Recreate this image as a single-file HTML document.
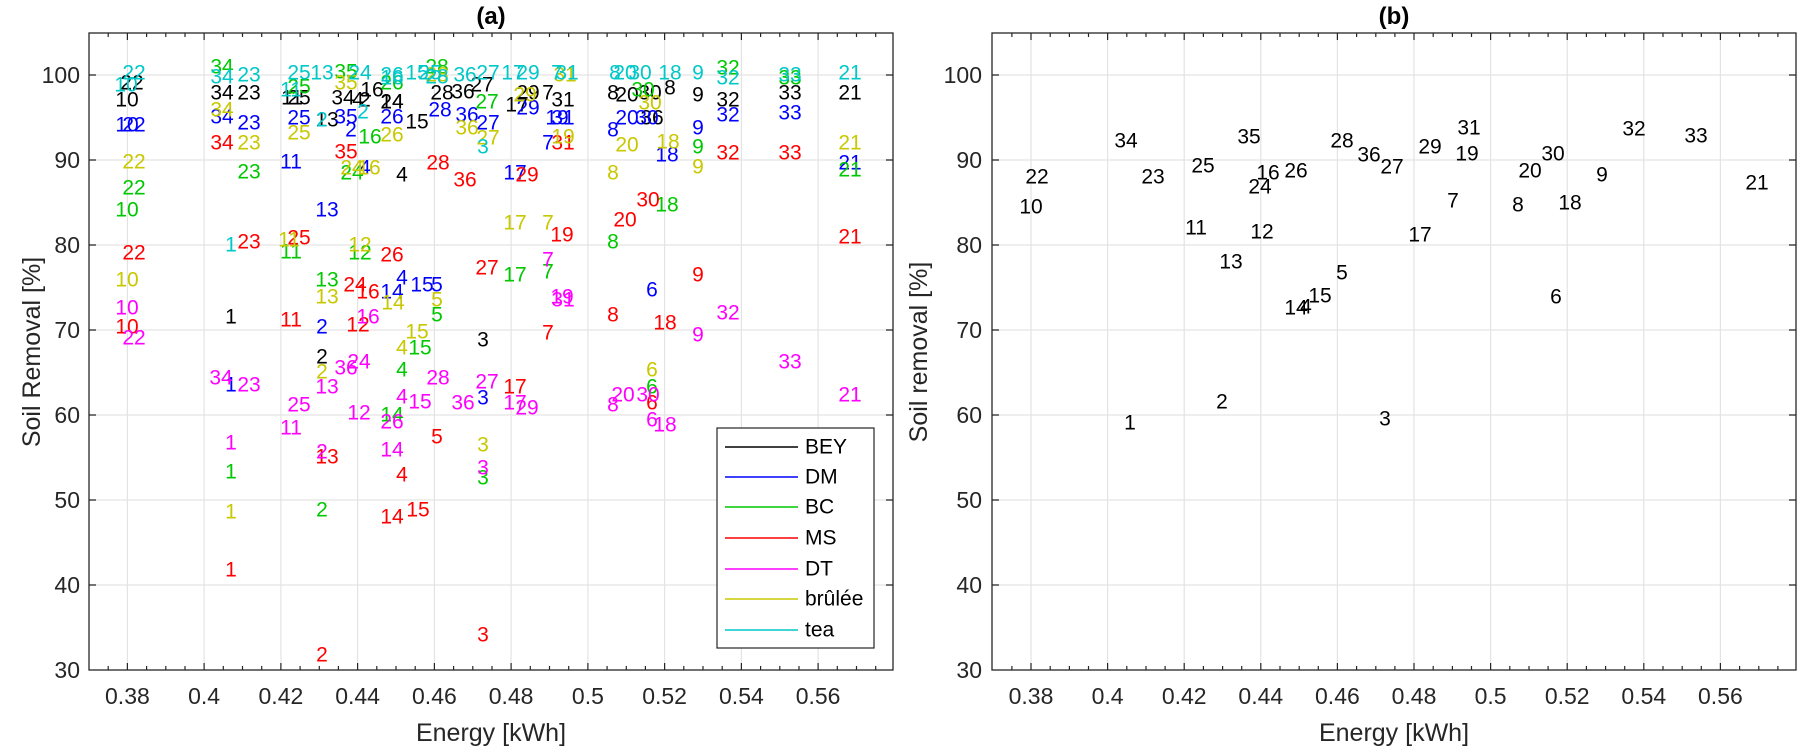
<!DOCTYPE html>
<html><head><meta charset="utf-8"><style>
body{margin:0;background:#fff}
svg{display:block;font-family:"Liberation Sans",Arial,sans-serif}
.d text{font-size:21px;text-anchor:middle;dominant-baseline:central}
.k{fill:#000}.b{fill:#0000ff}.g{fill:#00c800}.r{fill:#ff0000}.m{fill:#ff00ff}.y{fill:#c8c800}.c{fill:#00c8c8}
.t{font-size:23px;fill:#262626}
</style></head><body>
<svg width="1801" height="749" viewBox="0 0 1801 749" xmlns="http://www.w3.org/2000/svg">
<g stroke="#e3e3e3" stroke-width="1.2">
<line x1="127.4" y1="33" x2="127.4" y2="670"/><line x1="204.1" y1="33" x2="204.1" y2="670"/><line x1="280.9" y1="33" x2="280.9" y2="670"/><line x1="357.6" y1="33" x2="357.6" y2="670"/><line x1="434.4" y1="33" x2="434.4" y2="670"/><line x1="511.1" y1="33" x2="511.1" y2="670"/><line x1="587.9" y1="33" x2="587.9" y2="670"/><line x1="664.6" y1="33" x2="664.6" y2="670"/><line x1="741.4" y1="33" x2="741.4" y2="670"/><line x1="818.1" y1="33" x2="818.1" y2="670"/>
<line x1="89" y1="75" x2="893" y2="75"/><line x1="89" y1="160" x2="893" y2="160"/><line x1="89" y1="245" x2="893" y2="245"/><line x1="89" y1="330" x2="893" y2="330"/><line x1="89" y1="415" x2="893" y2="415"/><line x1="89" y1="500" x2="893" y2="500"/><line x1="89" y1="585" x2="893" y2="585"/>
</g>
<g stroke="#e3e3e3" stroke-width="1.2">
<line x1="1031" y1="33" x2="1031" y2="670"/><line x1="1107.6" y1="33" x2="1107.6" y2="670"/><line x1="1184.2" y1="33" x2="1184.2" y2="670"/><line x1="1260.8" y1="33" x2="1260.8" y2="670"/><line x1="1337.4" y1="33" x2="1337.4" y2="670"/><line x1="1414" y1="33" x2="1414" y2="670"/><line x1="1490.6" y1="33" x2="1490.6" y2="670"/><line x1="1567.2" y1="33" x2="1567.2" y2="670"/><line x1="1643.8" y1="33" x2="1643.8" y2="670"/><line x1="1720.4" y1="33" x2="1720.4" y2="670"/>
<line x1="992" y1="75" x2="1796" y2="75"/><line x1="992" y1="160" x2="1796" y2="160"/><line x1="992" y1="245" x2="1796" y2="245"/><line x1="992" y1="330" x2="1796" y2="330"/><line x1="992" y1="415" x2="1796" y2="415"/><line x1="992" y1="500" x2="1796" y2="500"/><line x1="992" y1="585" x2="1796" y2="585"/>
</g>

<g stroke="#262626" stroke-width="1.2">
<path d="M127.4 670v-7M204.1 670v-7M280.9 670v-7M357.6 670v-7M434.4 670v-7M511.1 670v-7M587.9 670v-7M664.6 670v-7M741.4 670v-7M818.1 670v-7M127.4 33v7M204.1 33v7M280.9 33v7M357.6 33v7M434.4 33v7M511.1 33v7M587.9 33v7M664.6 33v7M741.4 33v7M818.1 33v7"/>
<path d="M108.2 670v-4M146.6 670v-4M165.8 670v-4M185 670v-4M223.3 670v-4M242.5 670v-4M261.7 670v-4M300.1 670v-4M319.3 670v-4M338.4 670v-4M376.8 670v-4M396 670v-4M415.2 670v-4M453.6 670v-4M472.8 670v-4M492 670v-4M530.3 670v-4M549.5 670v-4M568.7 670v-4M607.1 670v-4M626.3 670v-4M645.4 670v-4M683.8 670v-4M703 670v-4M722.2 670v-4M760.6 670v-4M779.8 670v-4M799 670v-4M837.3 670v-4M856.5 670v-4M875.7 670v-4"/>
<path d="M108.2 33v4M146.6 33v4M165.8 33v4M185 33v4M223.3 33v4M242.5 33v4M261.7 33v4M300.1 33v4M319.3 33v4M338.4 33v4M376.8 33v4M396 33v4M415.2 33v4M453.6 33v4M472.8 33v4M492 33v4M530.3 33v4M549.5 33v4M568.7 33v4M607.1 33v4M626.3 33v4M645.4 33v4M683.8 33v4M703 33v4M722.2 33v4M760.6 33v4M779.8 33v4M799 33v4M837.3 33v4M856.5 33v4M875.7 33v4"/>
<path d="M89 75h7M89 160h7M89 245h7M89 330h7M89 415h7M89 500h7M89 585h7M893 75h-7M893 160h-7M893 245h-7M893 330h-7M893 415h-7M893 500h-7M893 585h-7"/>
</g>
<g stroke="#262626" stroke-width="1.2">
<path d="M1031 670v-7M1107.6 670v-7M1184.2 670v-7M1260.8 670v-7M1337.4 670v-7M1414 670v-7M1490.6 670v-7M1567.2 670v-7M1643.8 670v-7M1720.4 670v-7M1031 33v7M1107.6 33v7M1184.2 33v7M1260.8 33v7M1337.4 33v7M1414 33v7M1490.6 33v7M1567.2 33v7M1643.8 33v7M1720.4 33v7"/>
<path d="M1011.9 670v-4M1050.2 670v-4M1069.4 670v-4M1088.5 670v-4M1126.8 670v-4M1146 670v-4M1165.1 670v-4M1203.4 670v-4M1222.6 670v-4M1241.7 670v-4M1280 670v-4M1299.2 670v-4M1318.3 670v-4M1356.6 670v-4M1375.8 670v-4M1394.9 670v-4M1433.2 670v-4M1452.4 670v-4M1471.5 670v-4M1509.8 670v-4M1529 670v-4M1548.1 670v-4M1586.4 670v-4M1605.6 670v-4M1624.7 670v-4M1663 670v-4M1682.2 670v-4M1701.3 670v-4M1739.6 670v-4M1758.8 670v-4M1777.9 670v-4"/>
<path d="M1011.9 33v4M1050.2 33v4M1069.4 33v4M1088.5 33v4M1126.8 33v4M1146 33v4M1165.1 33v4M1203.4 33v4M1222.6 33v4M1241.7 33v4M1280 33v4M1299.2 33v4M1318.3 33v4M1356.6 33v4M1375.8 33v4M1394.9 33v4M1433.2 33v4M1452.4 33v4M1471.5 33v4M1509.8 33v4M1529 33v4M1548.1 33v4M1586.4 33v4M1605.6 33v4M1624.7 33v4M1663 33v4M1682.2 33v4M1701.3 33v4M1739.6 33v4M1758.8 33v4M1777.9 33v4"/>
<path d="M992 75h7M992 160h7M992 245h7M992 330h7M992 415h7M992 500h7M992 585h7M1796 75h-7M1796 160h-7M1796 245h-7M1796 330h-7M1796 415h-7M1796 500h-7M1796 585h-7"/>
</g>

<g class="t" text-anchor="middle">
<text x="127.4" y="704">0.38</text><text x="204.1" y="704">0.4</text><text x="280.9" y="704">0.42</text><text x="357.6" y="704">0.44</text><text x="434.4" y="704">0.46</text><text x="511.1" y="704">0.48</text><text x="587.9" y="704">0.5</text><text x="664.6" y="704">0.52</text><text x="741.4" y="704">0.54</text><text x="818.1" y="704">0.56</text>
<text x="1031" y="704">0.38</text><text x="1107.6" y="704">0.4</text><text x="1184.2" y="704">0.42</text><text x="1260.8" y="704">0.44</text><text x="1337.4" y="704">0.46</text><text x="1414" y="704">0.48</text><text x="1490.6" y="704">0.5</text><text x="1567.2" y="704">0.52</text><text x="1643.8" y="704">0.54</text><text x="1720.4" y="704">0.56</text>
</g>
<g class="t" text-anchor="end">
<text x="80" y="83">100</text><text x="80" y="168">90</text><text x="80" y="253">80</text><text x="80" y="338">70</text><text x="80" y="423">60</text><text x="80" y="508">50</text><text x="80" y="593">40</text><text x="80" y="678">30</text>
<text x="982" y="83">100</text><text x="982" y="168">90</text><text x="982" y="253">80</text><text x="982" y="338">70</text><text x="982" y="423">60</text><text x="982" y="508">50</text><text x="982" y="593">40</text><text x="982" y="678">30</text>
</g>
<g style="font-size:25px;fill:#262626" text-anchor="middle">
<text x="491" y="741">Energy [kWh]</text>
<text x="1394" y="741">Energy [kWh]</text>
<text transform="translate(40,352) rotate(-90)">Soil Removal [%]</text>
<text transform="translate(927,352) rotate(-90)">Soil removal [%]</text>
</g>
<g style="font-size:24px;font-weight:bold;fill:#000" text-anchor="middle">
<text x="491" y="24">(a)</text><text x="1394" y="24">(b)</text>
</g>

<g class="d">
<text class="k" x="132" y="83">22</text><text class="k" x="127" y="100">10</text><text class="k" x="222" y="93">34</text><text class="k" x="249" y="93">23</text><text class="k" x="292" y="98">11</text><text class="k" x="299" y="98">25</text><text class="k" x="327" y="120">13</text><text class="k" x="343" y="98">34</text><text class="k" x="372" y="90">16</text><text class="k" x="358" y="100">4</text><text class="k" x="365" y="100">2</text><text class="k" x="392" y="102">24</text><text class="k" x="392" y="102">14</text><text class="k" x="417" y="122">15</text><text class="k" x="442" y="93">28</text><text class="k" x="463" y="92">36</text><text class="k" x="482" y="85">27</text><text class="k" x="517" y="105">17</text><text class="k" x="528" y="93">29</text><text class="k" x="548" y="93">7</text><text class="k" x="563" y="100">31</text><text class="k" x="402" y="175">4</text><text class="k" x="613" y="93">8</text><text class="k" x="627" y="95">20</text><text class="k" x="650" y="93">30</text><text class="k" x="670" y="88">8</text><text class="k" x="698" y="95">9</text><text class="k" x="728" y="100">32</text><text class="k" x="790" y="93">33</text><text class="k" x="850" y="93">21</text><text class="k" x="652" y="118">36</text><text class="k" x="231" y="317">1</text><text class="k" x="322" y="357">2</text><text class="k" x="483" y="340">3</text>
<text class="b" x="127" y="125">10</text><text class="b" x="134" y="125">22</text><text class="b" x="222" y="117">34</text><text class="b" x="249" y="123">23</text><text class="b" x="299" y="118">25</text><text class="b" x="346" y="117">35</text><text class="b" x="291" y="162">11</text><text class="b" x="327" y="210">13</text><text class="b" x="322" y="327">2</text><text class="b" x="351" y="130">2</text><text class="b" x="392" y="117">26</text><text class="b" x="440" y="110">28</text><text class="b" x="467" y="115">36</text><text class="b" x="488" y="123">27</text><text class="b" x="528" y="108">29</text><text class="b" x="557" y="118">19</text><text class="b" x="563" y="118">31</text><text class="b" x="548" y="143">7</text><text class="b" x="365" y="168">4</text><text class="b" x="515" y="173">17</text><text class="b" x="402" y="278">4</text><text class="b" x="422" y="285">15</text><text class="b" x="437" y="285">5</text><text class="b" x="392" y="292">14</text><text class="b" x="627" y="118">20</text><text class="b" x="613" y="130">8</text><text class="b" x="647" y="118">30</text><text class="b" x="698" y="128">9</text><text class="b" x="728" y="115">32</text><text class="b" x="790" y="113">33</text><text class="b" x="667" y="155">18</text><text class="b" x="850" y="163">21</text><text class="b" x="652" y="290">6</text><text class="b" x="231" y="385">1</text><text class="b" x="483" y="398">3</text>
<text class="g" x="134" y="188">22</text><text class="g" x="127" y="210">10</text><text class="g" x="222" y="67">34</text><text class="g" x="249" y="172">23</text><text class="g" x="299" y="87">25</text><text class="g" x="346" y="72">35</text><text class="g" x="370" y="137">16</text><text class="g" x="352" y="173">24</text><text class="g" x="291" y="252">11</text><text class="g" x="327" y="280">13</text><text class="g" x="360" y="253">12</text><text class="g" x="392" y="83">26</text><text class="g" x="437" y="67">28</text><text class="g" x="487" y="102">27</text><text class="g" x="515" y="275">17</text><text class="g" x="548" y="272">7</text><text class="g" x="437" y="315">5</text><text class="g" x="420" y="348">15</text><text class="g" x="402" y="370">4</text><text class="g" x="392" y="415">14</text><text class="g" x="483" y="478">3</text><text class="g" x="613" y="242">8</text><text class="g" x="643" y="90">30</text><text class="g" x="728" y="68">32</text><text class="g" x="790" y="78">33</text><text class="g" x="698" y="147">9</text><text class="g" x="667" y="205">18</text><text class="g" x="850" y="170">21</text><text class="g" x="652" y="387">6</text><text class="g" x="231" y="472">1</text><text class="g" x="322" y="510">2</text>
<text class="r" x="134" y="253">22</text><text class="r" x="127" y="327">10</text><text class="r" x="222" y="143">34</text><text class="r" x="249" y="242">23</text><text class="r" x="346" y="152">35</text><text class="r" x="299" y="238">25</text><text class="r" x="291" y="320">11</text><text class="r" x="355" y="285">24</text><text class="r" x="368" y="292">16</text><text class="r" x="358" y="325">12</text><text class="r" x="438" y="163">28</text><text class="r" x="465" y="180">36</text><text class="r" x="527" y="175">29</text><text class="r" x="563" y="143">31</text><text class="r" x="562" y="235">19</text><text class="r" x="392" y="255">26</text><text class="r" x="487" y="268">27</text><text class="r" x="548" y="333">7</text><text class="r" x="625" y="220">20</text><text class="r" x="613" y="315">8</text><text class="r" x="648" y="200">30</text><text class="r" x="728" y="153">32</text><text class="r" x="790" y="153">33</text><text class="r" x="850" y="237">21</text><text class="r" x="698" y="275">9</text><text class="r" x="665" y="323">18</text><text class="r" x="515" y="387">17</text><text class="r" x="437" y="437">5</text><text class="r" x="402" y="475">4</text><text class="r" x="392" y="517">14</text><text class="r" x="418" y="510">15</text><text class="r" x="483" y="635">3</text><text class="r" x="327" y="457">13</text><text class="r" x="231" y="570">1</text><text class="r" x="322" y="655">2</text><text class="r" x="652" y="403">6</text>
<text class="m" x="127" y="308">10</text><text class="m" x="134" y="338">22</text><text class="m" x="368" y="317">16</text><text class="m" x="548" y="260">7</text><text class="m" x="562" y="297">19</text><text class="m" x="563" y="300">31</text><text class="m" x="728" y="313">32</text><text class="m" x="698" y="335">9</text><text class="m" x="346" y="368">36</text><text class="m" x="359" y="362">24</text><text class="m" x="221" y="378">34</text><text class="m" x="249" y="385">23</text><text class="m" x="327" y="387">13</text><text class="m" x="299" y="405">25</text><text class="m" x="359" y="413">12</text><text class="m" x="291" y="428">11</text><text class="m" x="231" y="443">1</text><text class="m" x="322" y="452">2</text><text class="m" x="438" y="378">28</text><text class="m" x="487" y="382">27</text><text class="m" x="402" y="397">4</text><text class="m" x="420" y="402">15</text><text class="m" x="463" y="403">36</text><text class="m" x="515" y="403">17</text><text class="m" x="527" y="408">29</text><text class="m" x="623" y="395">20</text><text class="m" x="613" y="405">8</text><text class="m" x="392" y="422">26</text><text class="m" x="392" y="450">14</text><text class="m" x="483" y="468">3</text><text class="m" x="790" y="362">33</text><text class="m" x="850" y="395">21</text><text class="m" x="648" y="395">30</text><text class="m" x="652" y="420">6</text><text class="m" x="665" y="425">18</text>
<text class="y" x="134" y="162">22</text><text class="y" x="127" y="280">10</text><text class="y" x="222" y="110">34</text><text class="y" x="249" y="143">23</text><text class="y" x="299" y="133">25</text><text class="y" x="346" y="83">35</text><text class="y" x="289" y="240">11</text><text class="y" x="327" y="297">13</text><text class="y" x="352" y="168">24</text><text class="y" x="369" y="168">16</text><text class="y" x="360" y="245">12</text><text class="y" x="392" y="135">26</text><text class="y" x="437" y="75">28</text><text class="y" x="467" y="128">36</text><text class="y" x="488" y="138">27</text><text class="y" x="525" y="95">29</text><text class="y" x="563" y="137">19</text><text class="y" x="565" y="75">31</text><text class="y" x="515" y="223">17</text><text class="y" x="548" y="223">7</text><text class="y" x="393" y="303">14</text><text class="y" x="437" y="300">5</text><text class="y" x="417" y="332">15</text><text class="y" x="402" y="348">4</text><text class="y" x="483" y="445">3</text><text class="y" x="627" y="145">20</text><text class="y" x="613" y="173">8</text><text class="y" x="650" y="103">30</text><text class="y" x="668" y="142">18</text><text class="y" x="698" y="167">9</text><text class="y" x="850" y="143">21</text><text class="y" x="652" y="370">6</text><text class="y" x="322" y="372">2</text><text class="y" x="231" y="512">1</text>
<text class="c" x="134" y="73">22</text><text class="c" x="126" y="85">10</text><text class="c" x="222" y="77">34</text><text class="c" x="249" y="75">23</text><text class="c" x="299" y="73">25</text><text class="c" x="322" y="73">13</text><text class="c" x="291" y="90">11</text><text class="c" x="322" y="120">2</text><text class="c" x="360" y="73">24</text><text class="c" x="363" y="112">2</text><text class="c" x="231" y="245">1</text><text class="c" x="392" y="75">26</text><text class="c" x="392" y="78">16</text><text class="c" x="417" y="73">15</text><text class="c" x="430" y="73">25</text><text class="c" x="437" y="77">28</text><text class="c" x="465" y="75">36</text><text class="c" x="488" y="73">27</text><text class="c" x="513" y="73">17</text><text class="c" x="528" y="73">29</text><text class="c" x="557" y="73">7</text><text class="c" x="567" y="73">31</text><text class="c" x="483" y="147">3</text><text class="c" x="615" y="73">8</text><text class="c" x="625" y="73">20</text><text class="c" x="640" y="73">30</text><text class="c" x="670" y="73">18</text><text class="c" x="698" y="73">9</text><text class="c" x="728" y="78">32</text><text class="c" x="790" y="75">33</text><text class="c" x="850" y="73">21</text>
</g>

<rect x="717" y="428" width="157" height="220" fill="#fff" stroke="#262626" stroke-width="1.2"/>
<g stroke-width="1.5">
<line x1="725" y1="447" x2="798" y2="447" stroke="#000"/>
<line x1="725" y1="477" x2="798" y2="477" stroke="#0000ff"/>
<line x1="725" y1="507" x2="798" y2="507" stroke="#00c800"/>
<line x1="725" y1="538" x2="798" y2="538" stroke="#ff0000"/>
<line x1="725" y1="569" x2="798" y2="569" stroke="#ff00ff"/>
<line x1="725" y1="599" x2="798" y2="599" stroke="#c8c800"/>
<line x1="725" y1="630" x2="798" y2="630" stroke="#00c8c8"/>
</g>
<g style="font-size:21px;fill:#000" dominant-baseline="central">
<text x="805" y="447">BEY</text><text x="805" y="477">DM</text><text x="805" y="507">BC</text><text x="805" y="538">MS</text><text x="805" y="569">DT</text><text x="805" y="599">brûlée</text><text x="805" y="630">tea</text>
</g>

<g class="d" fill="#000">
<text x="1126" y="141">34</text><text x="1037" y="177">22</text><text x="1031" y="207">10</text><text x="1153" y="177">23</text><text x="1203" y="166">25</text><text x="1249" y="137">35</text><text x="1268" y="173">16</text><text x="1260" y="187">24</text><text x="1296" y="171">26</text><text x="1342" y="141">28</text><text x="1369" y="155">36</text><text x="1392" y="167">27</text><text x="1430" y="147">29</text><text x="1469" y="128">31</text><text x="1467" y="154">19</text><text x="1453" y="201">7</text><text x="1420" y="235">17</text><text x="1196" y="228">11</text><text x="1262" y="232">12</text><text x="1231" y="262">13</text><text x="1342" y="273">5</text><text x="1320" y="296">15</text><text x="1296" y="308">14</text><text x="1306" y="307">4</text><text x="1530" y="171">20</text><text x="1553" y="154">30</text><text x="1518" y="205">8</text><text x="1570" y="203">18</text><text x="1602" y="175">9</text><text x="1634" y="129">32</text><text x="1696" y="136">33</text><text x="1757" y="183">21</text><text x="1556" y="297">6</text><text x="1222" y="402">2</text><text x="1130" y="423">1</text><text x="1385" y="419">3</text>
</g>

<rect x="89" y="33" width="804" height="637" fill="none" stroke="#262626" stroke-width="1.3"/>
<rect x="992" y="33" width="804" height="637" fill="none" stroke="#262626" stroke-width="1.3"/>
</svg>
</body></html>
